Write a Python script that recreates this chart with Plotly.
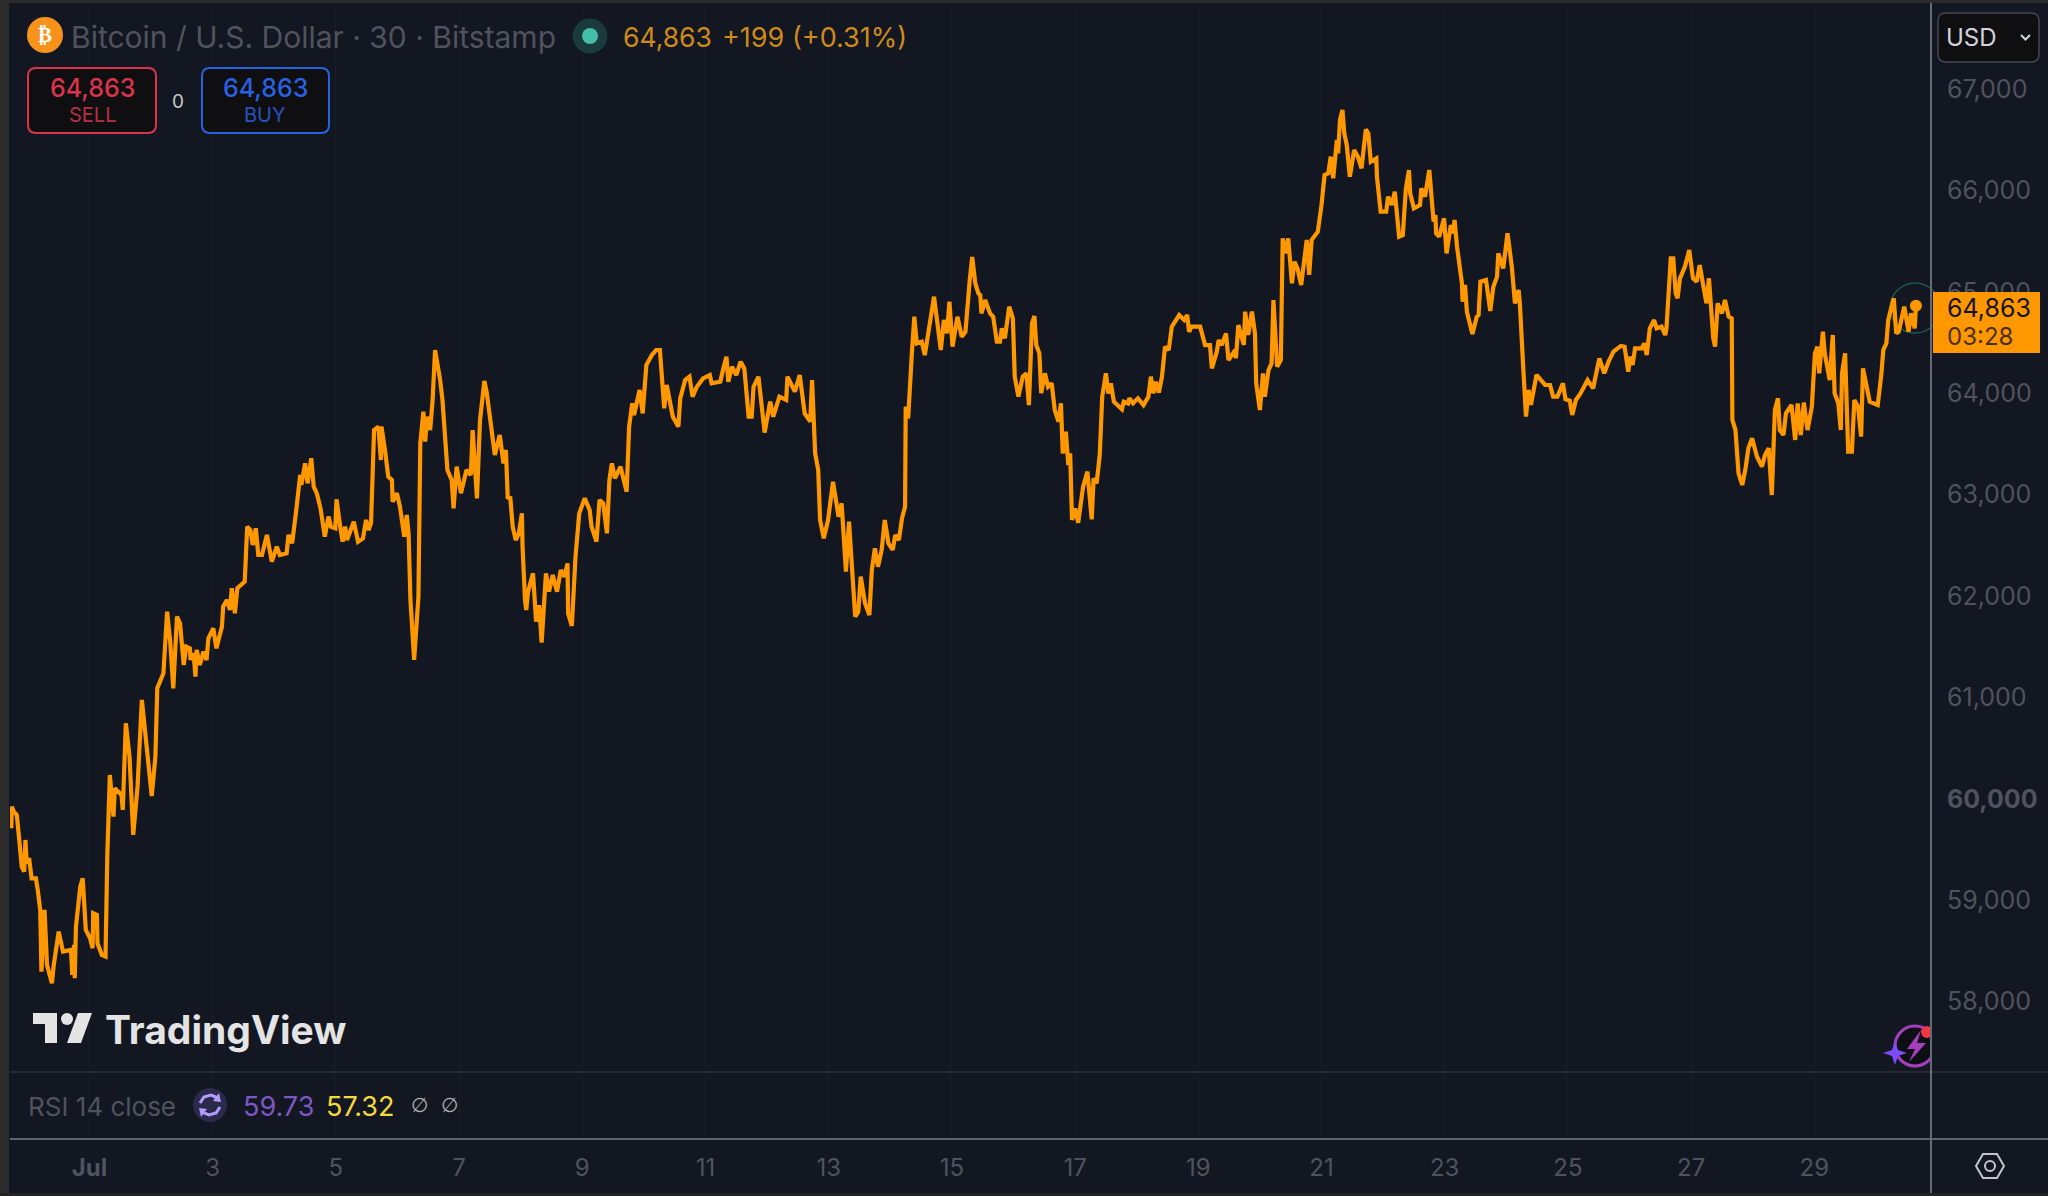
import plotly.graph_objects as go

W, H = 2048, 1196

# Day of July (fractional; values <1 fall in late June) and BTC/USD closing price
days = [
-0.27,-0.26,-0.23,-0.18,-0.14,-0.10,-0.06,-0.04,-0.02,0.02,0.06,0.13,0.16,0.20,0.22,0.27,0.31,0.39,0.42,0.50,0.57,0.70,0.72,0.75,0.76,0.78,0.85,0.89,0.94,1.01,
1.05,1.06,1.12,1.13,1.20,1.26,1.29,1.33,1.39,1.41,1.52,1.54,1.59,1.65,1.71,1.78,1.85,1.90,2.01,2.07,2.10,2.20,2.26,2.31,2.36,2.42,2.47,2.53,2.57,2.63,
2.64,2.69,2.72,2.74,2.79,2.85,2.90,2.93,3.01,3.06,3.15,3.17,3.23,3.28,3.31,3.36,3.40,3.52,3.56,3.61,3.65,3.70,3.74,3.80,3.88,3.96,4.04,4.09,4.20,4.23,
4.29,4.36,4.42,4.44,4.50,4.54,4.60,4.64,4.69,4.75,4.82,4.88,4.92,4.99,5.01,5.07,5.11,5.15,5.18,5.29,5.36,5.44,5.49,5.53,5.57,5.62,5.69,5.73,5.74,5.80,
5.85,5.91,5.92,5.99,6.04,6.11,6.15,6.18,6.21,6.27,6.34,6.37,6.42,6.45,6.48,6.53,6.57,6.61,6.69,6.73,6.81,6.88,6.91,6.96,7.03,7.12,7.19,7.22,7.29,7.34,
7.41,7.45,7.53,7.58,7.66,7.72,7.76,7.79,7.83,7.87,7.92,7.97,8.02,8.03,8.07,8.09,8.12,8.20,8.25,8.30,8.34,8.41,8.46,8.52,8.59,8.65,8.71,8.76,8.77,8.83,
8.89,8.95,9.04,9.12,9.15,9.23,9.28,9.34,9.40,9.44,9.48,9.53,9.62,9.72,9.76,9.81,9.84,9.93,9.98,10.04,10.13,10.20,10.26,10.33,10.37,10.47,10.56,10.59,10.67,10.74,
10.79,10.86,10.96,11.07,11.10,11.24,11.29,11.34,11.37,11.43,11.50,11.57,11.63,11.70,11.75,11.78,11.86,11.91,11.96,12.05,12.10,12.20,12.31,12.33,12.45,12.53,12.61,12.70,12.73,12.78,
12.83,12.86,12.92,12.99,13.07,13.16,13.21,13.28,13.33,13.43,13.48,13.52,13.59,13.66,13.70,13.75,13.80,13.86,13.91,13.97,14.04,14.08,14.14,14.19,14.24,14.25,14.29,14.35,14.39,14.43,
14.51,14.56,14.62,14.71,14.82,14.87,14.92,14.96,15.01,15.09,15.16,15.22,15.29,15.33,15.38,15.43,15.46,15.48,15.54,15.62,15.67,15.73,15.78,15.81,15.86,15.93,15.99,16.02,16.08,16.15,
16.21,16.25,16.30,16.34,16.37,16.42,16.45,16.51,16.56,16.62,16.67,16.73,16.77,16.80,16.85,16.89,16.92,16.95,17.00,17.05,17.13,17.20,17.27,17.30,17.35,17.40,17.44,17.50,17.54,17.58,
17.63,17.76,17.79,17.86,17.88,17.94,18.02,18.11,18.19,18.23,18.27,18.31,18.36,18.41,18.46,18.52,18.57,18.64,18.69,18.77,18.82,18.85,18.89,19.03,19.11,19.19,19.22,19.30,19.33,19.38,
19.45,19.49,19.60,19.61,19.65,19.74,19.76,19.81,19.87,19.92,19.94,20.00,20.05,20.08,20.14,20.19,20.22,20.25,20.28,20.34,20.37,20.41,20.46,20.52,20.56,20.61,20.67,20.76,20.80,20.84,
20.94,21.00,21.05,21.11,21.15,21.19,21.25,21.27,21.30,21.34,21.37,21.41,21.46,21.53,21.59,21.65,21.72,21.76,21.80,21.89,21.90,21.96,22.05,22.08,22.14,22.19,22.26,22.32,22.37,22.42,
22.44,22.50,22.60,22.62,22.68,22.75,22.79,22.82,22.85,22.86,22.91,22.99,23.03,23.10,23.13,23.16,23.20,23.28,23.29,23.33,23.36,23.45,23.52,23.55,23.58,23.67,23.74,23.79,23.85,23.87,
23.95,24.02,24.09,24.14,24.20,24.22,24.28,24.32,24.36,24.40,24.49,24.57,24.63,24.71,24.76,24.83,24.92,24.96,25.03,25.07,25.13,25.20,25.32,25.41,25.51,25.59,25.66,25.74,25.86,25.92,
25.98,26.01,26.05,26.09,26.20,26.24,26.28,26.33,26.40,26.44,26.52,26.58,26.60,26.67,26.71,26.75,26.78,26.82,26.90,26.97,27.03,27.09,27.14,27.21,27.25,27.29,27.36,27.39,27.43,27.50,
27.55,27.61,27.66,27.67,27.72,27.77,27.83,27.88,27.93,27.99,28.07,28.15,28.20,28.26,28.31,28.36,28.41,28.44,28.50,28.54,28.63,28.69,28.73,28.78,28.83,28.89,28.96,29.01,29.05,29.08,
29.14,29.17,29.25,29.30,29.33,29.39,29.43,29.45,29.50,29.55,29.61,29.65,29.71,29.76,29.79,29.90,30.03,30.09,30.12,30.17,30.20,30.24,30.29,30.33,30.37,30.46,30.53,30.57,30.63,30.65,
]
prices = [
59709,59923,59874,59841,59594,59331,59282,59594,59364,59414,59216,59216,59101,58904,58296,58904,58362,58181,58362,58690,58493,58510,58263,58559,58230,58740,59134,59216,58707,58625,
58526,58871,58855,58575,58460,58444,59463,60235,59824,60104,60038,59890,60745,60416,59644,60120,60975,60679,60028,60416,61090,61238,61846,61550,61090,61797,61731,61320,61501,61484,
61369,61435,61205,61468,61320,61451,61369,61583,61682,61484,61698,61895,61961,61862,62076,61829,62076,62142,62684,62651,62503,62668,62405,62405,62602,62339,62487,62405,62421,62602,
62520,62865,63193,63095,63308,63111,63358,63078,63013,62865,62585,62783,62684,62668,62953,62684,62536,62684,62552,62733,62536,62569,62750,62651,62717,63637,63670,63341,63670,63424,
63177,63144,62930,63013,62881,62585,62799,62618,61961,61369,61994,63506,63818,63522,63769,63637,63933,64426,64140,63933,63243,63144,62865,63276,63013,63243,63193,63637,62963,63736,
64120,64000,63571,63391,63588,63308,63440,62960,62979,62684,62552,62620,62815,62486,61960,61862,62043,62223,61747,61911,61540,62223,62043,62207,62043,62256,62190,62322,61829,61704,
62388,62815,62963,62848,62684,62536,62947,62914,62618,63144,63308,63160,63275,63029,63670,63900,63785,64031,63801,64278,64376,64426,64426,63851,64081,63768,63670,63949,64130,64163,
63966,64064,64146,64179,64097,64113,64245,64360,64113,64261,64179,64311,64245,63768,63768,64064,64163,63900,63611,63916,63768,63966,63933,64163,64015,64179,63801,63719,64130,63407,
63242,62749,62569,62749,63127,62782,62914,62240,62733,61796,61845,62191,61928,61812,62256,62470,62289,62454,62749,62519,62454,62601,62552,62766,62881,63867,63752,64393,64754,64491,
64508,64376,64590,64952,64426,64722,64590,64902,64459,64754,64557,64607,65116,65343,65083,64985,64968,64787,64919,64787,64754,64508,64508,64639,64541,64853,64738,64163,63966,64163,
64196,63883,64689,64761,64475,64393,64000,64196,64064,64097,63834,63719,63900,63407,63620,63292,63407,62749,62864,62723,63078,63226,62756,63160,63111,63390,63966,64196,63998,64097,
63916,63841,63916,63900,63949,63900,63949,63883,63965,64163,64000,64113,64005,64163,64458,64426,64656,64722,64771,64722,64771,64606,64656,64656,64475,64475,64245,64409,64524,64475,
64590,64327,64426,64344,64672,64475,64804,64574,64804,64590,64097,63834,64196,63966,64228,64294,64919,64590,64261,64327,65527,65379,65527,65084,65297,65231,65067,65511,65166,65511,
65593,65856,66152,66168,66333,66119,66497,66365,66694,66793,66563,66448,66135,66398,66333,66218,66602,66563,66283,66316,66135,65790,65790,65938,65856,65987,65544,65560,66020,66201,
65971,65823,65856,66020,65938,66201,65938,65692,65757,65577,65544,65725,65379,65659,65577,65708,65445,65083,64902,65067,64804,64583,64754,64771,65100,65116,64810,65050,65149,65379,
65231,65577,65248,64886,65018,64886,64196,63769,64032,63884,64180,64130,64081,64081,63966,63966,64098,63940,63926,63785,63933,63992,64130,64048,64344,64196,64311,64410,64466,64459,
64212,64360,64278,64443,64443,64492,64377,64640,64722,64640,64656,64574,64640,65330,65330,64985,64936,65133,65248,65412,65133,65100,65264,65018,64886,65133,64541,64459,64886,64788,
64919,64755,64738,63736,63637,63210,63095,63243,63457,63555,63374,63276,63391,63457,62996,63834,63949,63637,63588,63802,63884,63539,63900,63588,63907,63637,63867,64393,64459,64196,
64607,64393,64130,64574,63999,63900,63637,64196,64393,63424,63424,63933,63867,63572,64245,63917,63884,64196,64426,64492,64722,64821,64936,64590,64607,64853,64607,64788,64640,64863,
]
assert len(days) == len(prices), (len(days), len(prices))

price_ticks = [58000,59000,60000,61000,62000,63000,64000,65000,66000,67000]
price_labels = ["58,000","59,000","<b>60,000</b>","61,000","62,000","63,000","64,000","65,000","66,000","67,000"]
day_ticks = [1,3,5,7,9,11,13,15,17,19,21,23,25,27,29]
day_labels = ["<b>Jul</b>","3","5","7","9","11","13","15","17","19","21","23","25","27","29"]
last_price = "64,863"

BG = "#121722"
ORANGE = "#FF9800"
GREY = "#50535E"
FONT = "Inter"

def px(x): return x / W
def py(y): return 1 - y / H

shapes, annotations = [], []

def rect(x0, y0, x1, y1, fill, line=None, lw=0, layer="above"):
    shapes.append(dict(type="rect", xref="paper", yref="paper", x0=px(x0), x1=px(x1), y0=py(y0), y1=py(y1),
                       fillcolor=fill, line=dict(color=line or fill, width=lw), layer=layer))

def circle(cx, cy, rx, fill, line=None, lw=0, ry=None, layer="above"):
    ry = ry or rx
    shapes.append(dict(type="circle", xref="paper", yref="paper", x0=px(cx-rx), x1=px(cx+rx), y0=py(cy+ry), y1=py(cy-ry),
                       fillcolor=fill, line=dict(color=line or fill, width=lw), layer=layer))

def path(points, fill="rgba(0,0,0,0)", line=None, lw=0, close=True):
    d = "M " + " L ".join(f"{px(a):.5f},{py(b):.5f}" for a, b in points) + (" Z" if close else "")
    shapes.append(dict(type="path", xref="paper", yref="paper", path=d, fillcolor=fill,
                       line=dict(color=line or "rgba(0,0,0,0)", width=lw), layer="above"))

def rrect(x0, y0, x1, y1, r, fill, line, lw):
    def p(a, b): return f"{px(a):.5f},{py(b):.5f}"
    d = (f"M {p(x0+r,y0)} L {p(x1-r,y0)} Q {p(x1,y0)} {p(x1,y0+r)} L {p(x1,y1-r)} Q {p(x1,y1)} {p(x1-r,y1)} "
         f"L {p(x0+r,y1)} Q {p(x0,y1)} {p(x0,y1-r)} L {p(x0,y0+r)} Q {p(x0,y0)} {p(x0+r,y0)} Z")
    shapes.append(dict(type="path", xref="paper", yref="paper", path=d, fillcolor=fill,
                       line=dict(color=line, width=lw), layer="above"))

def text(x, y, s, size, color, anchor="left", weight=None, family=FONT):
    f = dict(family=family, size=size, color=color)
    if weight: f["weight"] = weight
    annotations.append(dict(xref="paper", yref="paper", x=px(x), y=py(y), text=s, showarrow=False,
                            xanchor=anchor, yanchor="middle", font=f, borderpad=0, borderwidth=0))

# frame
rect(0, 0, 9, H, "#2B2B2B")
rect(0, 0, W, 3, "#2B2B2B")
rect(0, 1193, W, H, "#242424")

# bolt / star badge
circle(1915, 1046, 20, "#0E0F14", "#A63FBF", 3)
path([(1921,1030),(1907,1049),(1915,1049),(1909,1062),(1926,1043),(1917,1043)], fill="#A63FBF")
circle(1927, 1032, 6, "#F23645")
path([(1895,1041),(1898,1050),(1907,1053),(1898,1056),(1895,1065),(1892,1056),(1883,1053),(1892,1050)], fill="#7C4DFF")
rect(1932, 1020, 1990, 1068, BG)

# pane separators and price axis
rect(10, 1071, W, 1073, "#262A35")
rect(10, 1138, W, 1140, "#5F636E")
rect(1930, 3, 1932, 1193, "#666B78")

# last price ring and label
circle(1915, 308, 25, "rgba(0,0,0,0)", "#1F5752", 1.5, layer="below")
rect(1933, 292, 2040, 353, ORANGE)
text(1947, 308, last_price, 25, "#131313")
text(1947, 336, "03:28", 24, "#4A2E05")

# USD box
rrect(1938, 13, 2039, 62, 8, "#0F0F11", "#44474F", 1.5)
text(1946, 38, "USD", 24, "#D1D4DC")
path([(2021,35),(2025.5,39.5),(2030,35)], line="#D1D4DC", lw=2, close=False)

# header
circle(45, 35, 18, "#F7931A")
text(45, 35, "₿", 21, "#FFFFFF", anchor="center", family="DejaVu Sans", weight=700)
text(71, 37, "Bitcoin / U.S. Dollar · 30 · Bitstamp", 30, GREY)
circle(590, 36, 17.5, "#1A3A3C")
circle(590, 36, 8, "#42BDA8")
text(623, 37, "64,863", 26.5, "#D08A1C")
text(722, 37, "+199 (+0.31%)", 27, "#D08A1C")

# order buttons
rrect(28, 68, 156, 133, 8, "#0F0F11", "#D9344A", 2)
text(92, 88, last_price, 25, "#D9344A", anchor="center", weight=500)
text(92, 115, "SELL", 20, "#B53044", anchor="center")
text(178, 101, "0", 19, "#C8C8C8", anchor="center")
rrect(202, 68, 329, 133, 8, "#0F0F11", "#2962E0", 2)
text(265, 88, last_price, 25, "#2962E0", anchor="center", weight=500)
text(265, 115, "BUY", 20, "#2653BE", anchor="center")

# watermark
path([(33,1013),(57,1013),(57,1043),(45,1043),(45,1024),(33,1024)], fill="#E4E4E4")
circle(67, 1019, 6, "#E4E4E4")
path([(78,1013),(92,1013),(81,1043),(67,1043)], fill="#E4E4E4")
text(105, 1029, "TradingView", 39, "#E4E4E4", weight=700)

# RSI legend
text(28, 1106, "RSI 14 close", 26, GREY)
circle(210, 1105, 17, "#2B2A4A")
path([(200,1103),(204,1097),(211,1095),(218,1098)], line="#B39DFF", lw=3, close=False)
path([(220,1107),(216,1113),(209,1115),(202,1112)], line="#B39DFF", lw=3, close=False)
path([(219,1093),(221,1102),(213,1101)], fill="#B39DFF")
path([(201,1117),(199,1108),(207,1109)], fill="#B39DFF")
text(243, 1106, "59.73", 27, "#7E57C2")
text(326, 1106, "57.32", 27, "#F5D93F")
text(419, 1105, "∅", 20, "#B0B0B0", anchor="center", family="DejaVu Sans")
text(449, 1105, "∅", 20, "#B0B0B0", anchor="center", family="DejaVu Sans")

# settings hexagon
path([(1976,1166),(1983,1154),(1997,1154),(2004,1166),(1997,1178),(1983,1178)], line="#C4C6CC", lw=2)
circle(1990, 1166, 5, "rgba(0,0,0,0)", "#C4C6CC", 2)

fig = go.Figure()
fig.add_trace(go.Scatter(x=days, y=prices, mode="lines", line=dict(color=ORANGE, width=4.2, shape="linear"),
                         hoverinfo="skip", showlegend=False))
fig.add_trace(go.Scatter(x=days[-1:], y=prices[-1:], mode="markers", marker=dict(color=ORANGE, size=12),
                         hoverinfo="skip", showlegend=False))

# scale: plot area spans px 10..1931 horizontally and 4..1138 vertically
x_day = lambda v: 1 + (v - 89.5) / 61.6
y_price = lambda v: 67000 - (v - 89) / 0.1014

fig.update_layout(
    width=W, height=H, autosize=False, margin=dict(l=0, r=0, t=0, b=0),
    paper_bgcolor=BG, plot_bgcolor=BG, showlegend=False,
    font=dict(family=FONT, color=GREY, size=23),
    xaxis=dict(domain=[px(10), px(1931)], range=[x_day(10), x_day(1931)], tickmode="array",
               tickvals=day_ticks, ticktext=day_labels, showgrid=True, gridcolor="#171C28", gridwidth=1,
               zeroline=False, showline=False, ticks="", ticklabelstandoff=13,
               tickfont=dict(family=FONT, size=24, color=GREY), anchor="y"),
    yaxis=dict(domain=[py(1138), py(4)], range=[y_price(1138), y_price(4)], side="right", tickmode="array",
               tickvals=price_ticks, ticktext=price_labels, showgrid=False,
               zeroline=False, showline=False, ticks="", ticklabelstandoff=15,
               tickfont=dict(family=FONT, size=25, color=GREY), anchor="x"),
    shapes=shapes, annotations=annotations,
)

fig.write_html("out.html", config=dict(displayModeBar=False),
               post_script="document.body.style.margin='0';document.body.style.background='%s';document.body.style.overflow='hidden';" % BG)
